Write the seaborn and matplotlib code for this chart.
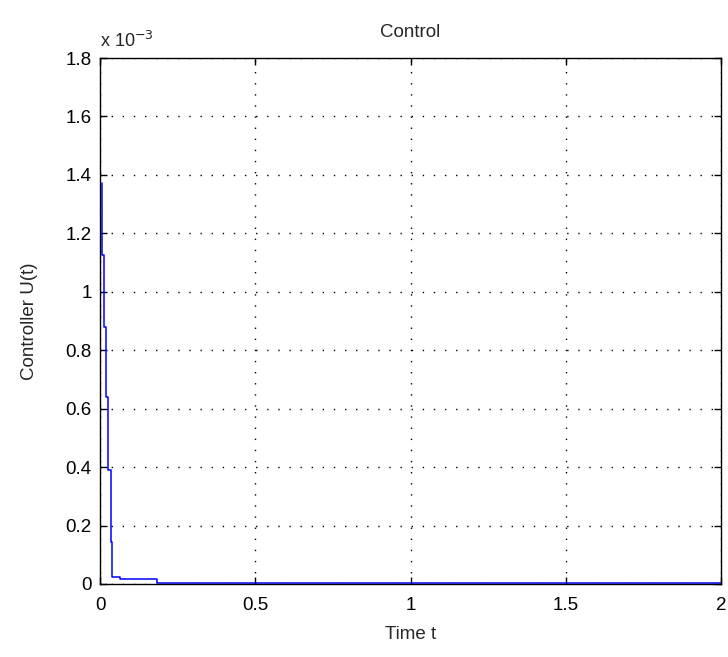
import matplotlib
matplotlib.use("Agg")
import matplotlib.pyplot as plt
import seaborn as sns
import pandas as pd
from matplotlib.ticker import FuncFormatter

# Data (controller signal, piecewise constant)
time_t = [0.0055, 0.0055, 0.0129, 0.0193, 0.0267, 0.0344, 0.0396, 0.0644, 0.1836, 2.0]
u_val = [1.373e-3, 1.126e-3, 0.881e-3, 0.641e-3, 0.390e-3, 0.145e-3, 0.023e-3, 0.016e-3, 0.004e-3, 0.004e-3]
x_ticks = [0, 0.5, 1, 1.5, 2]
y_ticks = [0, 0.2e-3, 0.4e-3, 0.6e-3, 0.8e-3, 1.0e-3, 1.2e-3, 1.4e-3, 1.6e-3, 1.8e-3]

sns.set_style("white")
plt.rcParams['font.family'] = ['Liberation Sans', 'DejaVu Sans']

fig = plt.figure(figsize=(7.28, 6.57), dpi=100)
ax = fig.add_axes([100/728, 73/657, 621/728, 526/657])

df = pd.DataFrame({"t": time_t, "u": u_val})
sns.lineplot(data=df, x="t", y="u", ax=ax, color=(0, 0, 1), linewidth=1.1,
             drawstyle="steps-post", sort=False, estimator=None)

ax.set_xlim(0, 2)
ax.set_ylim(0, 1.8e-3)
ax.set_xticks(x_ticks)
ax.set_yticks(y_ticks)
ax.xaxis.set_major_formatter(FuncFormatter(lambda v, p: f"{v:g}"))
ax.yaxis.set_major_formatter(FuncFormatter(lambda v, p: f"{round(v*1e3, 4):g}"))

ax.grid(True, color="black", linestyle=(0, (1, 7)), linewidth=1.0)
for s in ax.spines.values():
    s.set_visible(True)
    s.set_color("black")
    s.set_linewidth(1.0)
ax.tick_params(direction="in", length=5, width=1, colors="black",
               top=True, right=True, bottom=True, left=True,
               labelsize=13.5)
ax.tick_params(axis="x", pad=9)
ax.tick_params(axis="y", pad=6)

ax.set_xlabel("Time t", fontsize=13.5, labelpad=9)
ax.set_ylabel("Controller U(t)", fontsize=13.5, labelpad=20)
ax.set_title("Control", fontsize=13.5, pad=15)
ax.text(0.0, 1.014, r"x 10$^{-3}$", transform=ax.transAxes, fontsize=13,
        ha="left", va="bottom")

fig.savefig("out.png", dpi=100, facecolor="white")
